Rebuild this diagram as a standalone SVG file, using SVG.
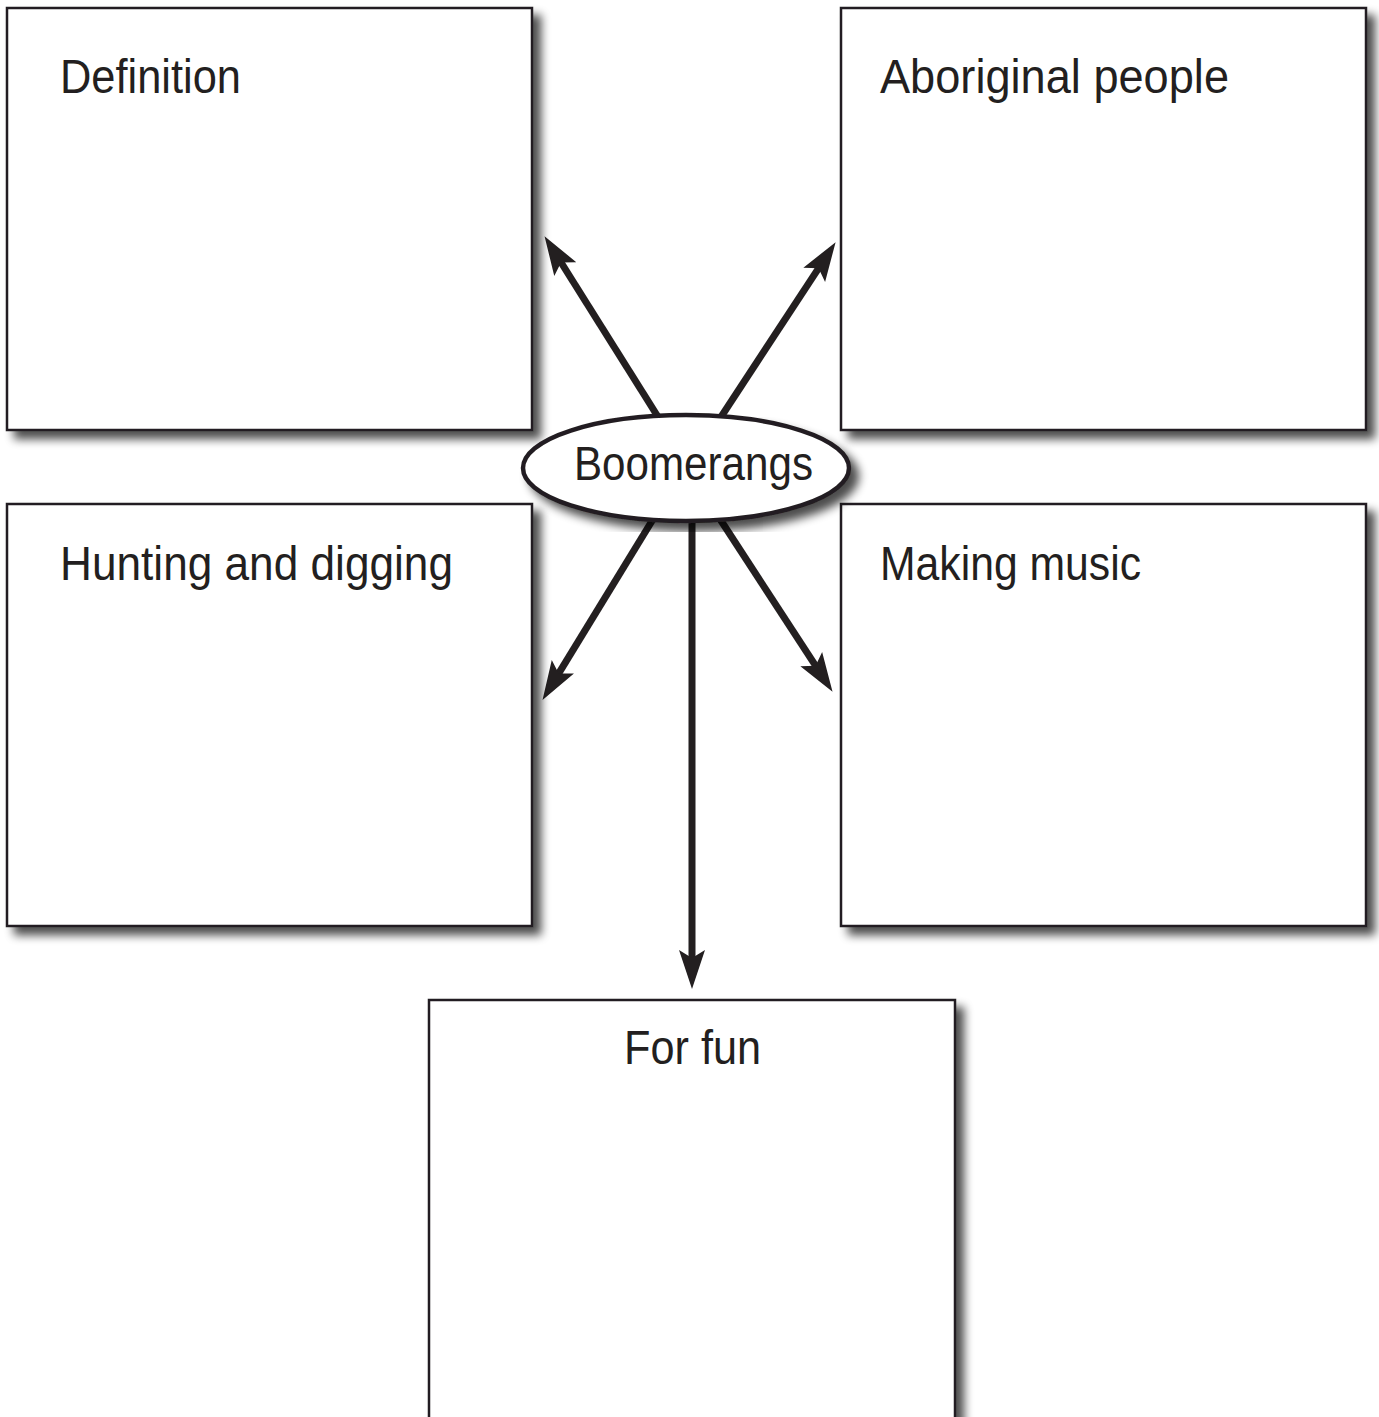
<svg xmlns="http://www.w3.org/2000/svg" width="1379" height="1417" viewBox="0 0 1379 1417">
<style>
.box{fill:#ffffff;stroke:#231f20;stroke-width:2.5}
.lbl{font-family:"Liberation Sans","DejaVu Sans",sans-serif;font-size:48px;fill:#231f20}
.arr{stroke:#231f20;stroke-width:7;fill:none}
</style>
<defs>
<filter id="sh" x="-5%" y="-5%" width="115%" height="115%">
<feGaussianBlur in="SourceAlpha" stdDeviation="5"/>
<feOffset dx="8" dy="8" result="b"/>
<feComponentTransfer><feFuncA type="linear" slope="0.7"/></feComponentTransfer>
<feMerge><feMergeNode/><feMergeNode in="SourceGraphic"/></feMerge>
</filter>
<marker id="ah" markerUnits="userSpaceOnUse" markerWidth="60" markerHeight="60" refX="0" refY="0" orient="auto" overflow="visible" viewBox="-20 -20 60 40">
<path d="M27,0 L-12,-13 L-4,0 L-12,13 Z" fill="#231f20"/>
</marker>
</defs>
<rect width="1379" height="1417" fill="#ffffff"/>
<g id="connectors">
<line class="arr" x1="660" y1="420" x2="558.9" y2="259" marker-end="url(#ah)"/>
<line class="arr" x1="719" y1="420" x2="820.8" y2="264.8" marker-end="url(#ah)"/>
<line class="arr" x1="655" y1="516" x2="556.6" y2="676.9" marker-end="url(#ah)"/>
<line class="arr" x1="718" y1="516" x2="817.8" y2="669.2" marker-end="url(#ah)"/>
<line class="arr" x1="692" y1="516" x2="692" y2="962" marker-end="url(#ah)"/>
</g>
<g id="definition">
<rect class="box" x="7" y="8" width="525" height="422" filter="url(#sh)"/>
<text class="lbl" x="60" y="93" textLength="181" lengthAdjust="spacingAndGlyphs">Definition</text>
</g>
<g id="aboriginal">
<rect class="box" x="841" y="8" width="525" height="422" filter="url(#sh)"/>
<text class="lbl" x="880" y="93" textLength="349" lengthAdjust="spacingAndGlyphs">Aboriginal people</text>
</g>
<g id="hunting">
<rect class="box" x="7" y="504" width="525" height="422" filter="url(#sh)"/>
<text class="lbl" x="60" y="580" textLength="393" lengthAdjust="spacingAndGlyphs">Hunting and digging</text>
</g>
<g id="music">
<rect class="box" x="841" y="504" width="525" height="422" filter="url(#sh)"/>
<text class="lbl" x="880" y="580" textLength="261" lengthAdjust="spacingAndGlyphs">Making music</text>
</g>
<g id="fun">
<rect class="box" x="429" y="1000" width="526" height="500" filter="url(#sh)"/>
<text class="lbl" x="624" y="1064" textLength="137" lengthAdjust="spacingAndGlyphs">For fun</text>
</g>
<g id="boomerangs">
<ellipse cx="686" cy="468" rx="163" ry="53" fill="#ffffff" stroke="#231f20" stroke-width="4.5" filter="url(#sh)"/>
<text class="lbl" x="574" y="480" textLength="239" lengthAdjust="spacingAndGlyphs">Boomerangs</text>
</g>
</svg>
